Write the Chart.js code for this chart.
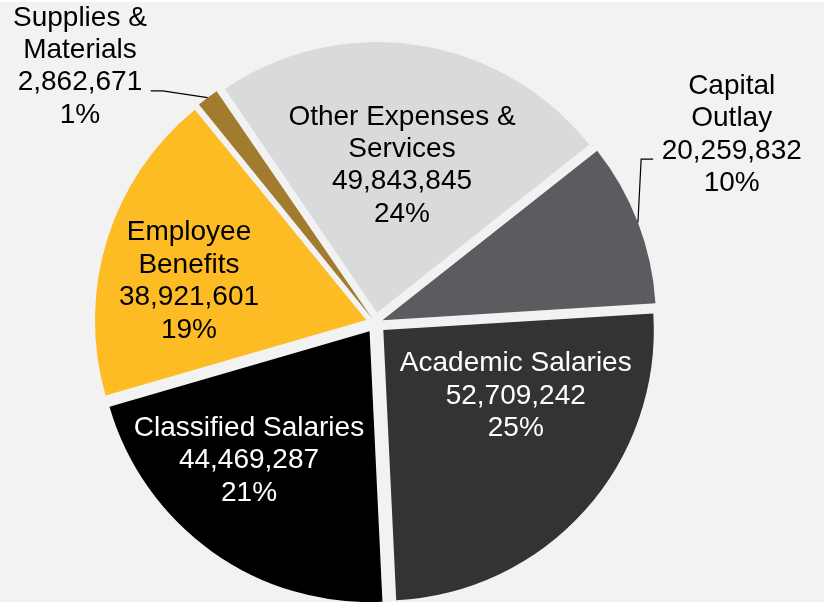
<!DOCTYPE html>
<html>
<head>
<meta charset="utf-8">
<title>Expenditures by Category</title>
<script src="https://cdn.jsdelivr.net/npm/chart.js@4.4.1/dist/chart.umd.min.js"></script>
<style>
  html, body { margin: 0; padding: 0; background: #f2f2f2; }
  #wrap { width: 824px; height: 600px; border-top: 2px solid #fff; position: relative; }
</style>
</head>
<body>
<div id="wrap"><canvas id="pie"></canvas></div>
<script>
// expense categories, clockwise starting near 3 o'clock
const categories = [
  ['Academic Salaries'],
  ['Classified Salaries'],
  ['Employee', 'Benefits'],
  ['Supplies &', 'Materials'],
  ['Other Expenses &', 'Services'],
  ['Capital', 'Outlay']
];
const amounts = [52709242, 44469287, 38921601, 2862671, 49843845, 20259832];

const sliceColors = ['#333333', '#000000', '#fdbb24', '#a27c2e', '#d9dadc', '#5b5c60'];
const textColors = ['#fff', '#fff', '#000', '#000', '#000', '#000'];
// label spot per slice: [degrees away from the slice middle, distance as share of radius]
const labelSpots = [[-15.4, 0.547], [7.5, 0.652], [-5, 0.668], [-12.7, 1.409], [0.9, 0.552], [-7.1, 1.451]];
const outside = [false, false, false, true, false, true];

const total = amounts.reduce((a, b) => a + b, 0);
const PULL = 10.5; // px each slice is pulled away from the centre

// Chart.js moves an arc by offset/4 * (2 - sin(angle)), undo that so
// thin and wide slices get pulled out the same distance
function sliceOffset(ctx) {
  const angle = amounts[ctx.dataIndex] / total * Math.PI * 2;
  const fix = 1 - Math.sin(Math.min(Math.PI, angle));
  return PULL * 4 / (1 + fix);
}

const sliceLabels = {
  id: 'sliceLabels',
  afterDatasetsDraw(chart) {
    const ctx = chart.ctx;
    const arcs = chart.getDatasetMeta(0).data;
    const lineH = 32.4;
    ctx.save();
    ctx.font = '28px "Liberation Sans", Arial, sans-serif';
    ctx.textAlign = 'center';
    ctx.textBaseline = 'middle';
    arcs.forEach((arc, i) => {
      const mid = (arc.startAngle + arc.endAngle) / 2;
      const circ = arc.endAngle - arc.startAngle;
      const fix = 1 - Math.sin(Math.min(Math.PI, circ));
      const pull = (arc.options.offset || 0) / 4 * (1 + fix);
      const cx = arc.x + Math.cos(mid) * pull;
      const cy = arc.y + Math.sin(mid) * pull;
      const r = arc.outerRadius;
      const a = mid + labelSpots[i][0] * Math.PI / 180;
      const lx = cx + Math.cos(a) * r * labelSpots[i][1];
      const ly = cy + Math.sin(a) * r * labelSpots[i][1];
      const pct = Math.round(amounts[i] / total * 100) + '%';
      const lines = categories[i].concat([amounts[i].toLocaleString('en-US'), pct]);
      const top = ly - (lines.length - 1) * lineH / 2;
      ctx.fillStyle = textColors[i];
      lines.forEach((t, k) => ctx.fillText(t, lx, top + k * lineH));

      if (outside[i]) {
        // leader line from the slice edge over to the amount line
        const numW = ctx.measureText(lines[lines.length - 2]).width;
        const side = lx > cx ? -1 : 1;
        const endX = lx + side * (numW / 2 + 8.5);
        const elbowX = endX + side * 12;
        const lineY = ly + 24.4;
        ctx.beginPath();
        ctx.moveTo(cx + Math.cos(mid) * r, cy + Math.sin(mid) * r);
        ctx.lineTo(elbowX, lineY);
        ctx.lineTo(endX, lineY);
        ctx.strokeStyle = '#000';
        ctx.lineWidth = 1.2;
        ctx.stroke();
      }
    });
    ctx.restore();
  }
};

new Chart(document.getElementById('pie'), {
  type: 'pie',
  data: {
    labels: categories,
    datasets: [{
      data: amounts,
      backgroundColor: sliceColors,
      borderWidth: 0,
      offset: sliceOffset
    }]
  },
  options: {
    responsive: true,
    maintainAspectRatio: false,
    animation: false,
    events: [],
    rotation: 86.5,
    radius: 270.5,
    layout: { padding: { left: 0, right: 73, top: 42, bottom: 0 } },
    plugins: {
      legend: { display: false },
      tooltip: { enabled: false }
    }
  },
  plugins: [sliceLabels]
});
</script>
</body>
</html>
